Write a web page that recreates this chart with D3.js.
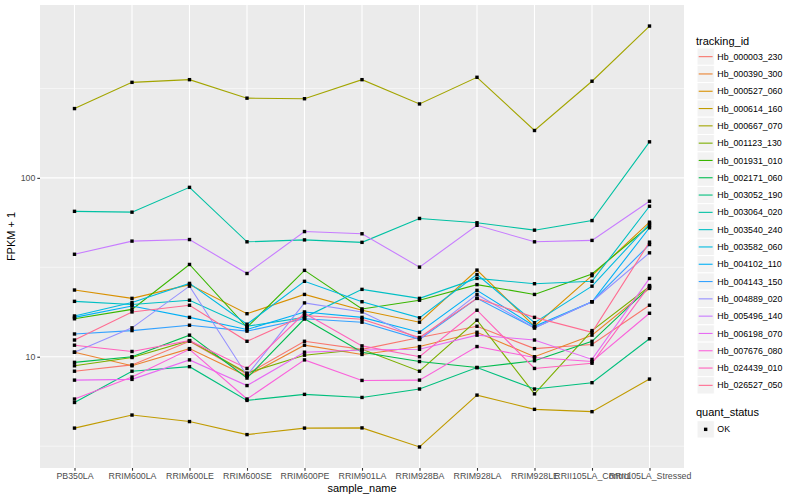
<!DOCTYPE html>
<html>
<head>
<meta charset="utf-8">
<script src="https://cdn.jsdelivr.net/npm/d3@7"></script>
<style>
  body { margin: 0; background: #fff; }
  text { font-family: "Liberation Sans", Arial, Helvetica, sans-serif; }
</style>
</head>
<body>
<script>
"use strict";

///////////////////
// data
///////////////////
var samples = ["PB350LA", "RRIM600LA", "RRIM600LE", "RRIM600SE", "RRIM600PE", "RRIM901LA",
    "RRIM928BA", "RRIM928LA", "RRIM928LE", "RRII105LA_Control", "RRII105LA_Stressed"];

var trackingIds = ["Hb_000003_230", "Hb_000390_300", "Hb_000527_060", "Hb_000614_160",
    "Hb_000667_070", "Hb_001123_130", "Hb_001931_010", "Hb_002171_060", "Hb_003052_190",
    "Hb_003064_020", "Hb_003540_240", "Hb_003582_060", "Hb_004102_110", "Hb_004143_150",
    "Hb_004889_020", "Hb_005496_140", "Hb_006198_070", "Hb_007676_080", "Hb_024439_010",
    "Hb_026527_050"];

// FPKM + 1, one value per sample
var hb_000003_230 = [8.3, 9.0, 12.2, 8.0, 12.2, 11.0, 12.8, 14.8, 11.1, 11.7, 19.4];
var hb_000390_300 = [10.6, 8.9, 11.1, 7.8, 11.6, 10.3, 11.4, 13.7, 10.0, 13.2, 24.1];
var hb_000527_060 = [23.6, 21.2, 25.3, 17.4, 22.3, 18.2, 15.6, 30.5, 14.8, 28.4, 56.5];
var hb_000614_160 = [3.99, 4.72, 4.34, 3.67, 3.99, 4.0, 3.13, 6.1, 5.08, 4.93, 7.5];
var hb_000667_070 = [244, 342, 354, 279, 277, 354, 259, 365, 184, 347, 706];
var hb_001123_130 = [8.9, 9.9, 12.3, 8.1, 10.2, 11.0, 8.3, 16.0, 6.2, 14.0, 24.7];
var hb_001931_010 = [16.3, 18.4, 32.8, 14.6, 30.4, 18.5, 20.7, 25.3, 22.3, 29.0, 54.0];
var hb_002171_060 = [9.3, 10.0, 13.2, 7.6, 16.3, 10.6, 9.4, 8.7, 9.5, 12.2, 24.5];
var hb_003052_190 = [5.55, 8.3, 8.8, 5.7, 6.16, 5.92, 6.6, 8.7, 6.6, 7.16, 12.6];
var hb_003064_020 = [65, 64.3, 88.5, 43.9, 45, 43.6, 59.3, 56.1, 51, 57.7, 159];
var hb_003540_240 = [20.4, 19.6, 20.7, 14.8, 16.6, 23.8, 21.2, 27.4, 25.6, 26.4, 69.4];
var hb_003582_060 = [16.9, 20.1, 25.7, 15.2, 26.4, 20.3, 16.5, 28.8, 15.5, 24.8, 55.3];
var hb_004102_110 = [16.6, 19.2, 16.6, 14.2, 17.8, 16.6, 13.7, 23.5, 14.8, 20.3, 52.6];
var hb_004143_150 = [13.4, 14.0, 15.0, 13.9, 16.3, 15.6, 12.5, 21.2, 14.5, 20.3, 42.4];
var hb_004889_020 = [10.6, 14.5, 24.8, 7.86, 20.0, 17.8, 12.5, 22.3, 14.5, 20.3, 38.1];
var hb_005496_140 = [37.4, 44.3, 45.2, 29.2, 50.1, 48.7, 31.7, 54.3, 43.9, 44.7, 74];
var hb_006198_070 = [7.4, 7.47, 9.6, 6.9, 10.6, 10.9, 11.0, 13.2, 12.4, 9.66, 27.4];
var hb_007676_080 = [5.8, 7.7, 11.0, 5.8, 9.6, 7.37, 7.4, 11.4, 9.9, 9.4, 17.5];
var hb_024439_010 = [11.6, 10.7, 12.3, 8.6, 17.5, 11.5, 10.0, 18.2, 8.6, 9.2, 25.0];
var hb_026527_050 = [12.4, 17.8, 19.4, 12.2, 17.0, 16.2, 12.8, 21.2, 16.6, 13.7, 43.7];

var seriesValues = [hb_000003_230, hb_000390_300, hb_000527_060, hb_000614_160, hb_000667_070,
    hb_001123_130, hb_001931_010, hb_002171_060, hb_003052_190, hb_003064_020, hb_003540_240,
    hb_003582_060, hb_004102_110, hb_004143_150, hb_004889_020, hb_005496_140, hb_006198_070,
    hb_007676_080, hb_024439_010, hb_026527_050];

var yTicks = [10, 100];
var statusLevels = ["OK"];

// ggplot default hue palette, 20 levels
var hueColors = ["#F8766D", "#EA8331", "#D89000", "#C09B00", "#A3A500", "#7CAE00", "#39B600",
    "#00BB4E", "#00BF7D", "#00C1A3", "#00BFC4", "#00BAE0", "#00B0F6", "#35A2FF", "#9590FF",
    "#C77CFF", "#E76BF3", "#FA62DB", "#FF62BC", "#FF6C91"];

///////////////////
// layout
///////////////////
var W = 800, H = 500;
var panel = { left: 40, right: 684, top: 5, bottom: 468 };

var series = trackingIds.map(function(id, i) {
    return {
        id: id,
        color: hueColors[i],
        points: seriesValues[i].map(function(v, j) { return { sample: samples[j], value: v }; })
    };
});

var allValues = d3.merge(seriesValues);
var logExt = d3.extent(allValues).map(Math.log10);
var pad = (logExt[1] - logExt[0]) * 0.05;

var x = d3.scalePoint()
    .domain(samples)
    .range([panel.left, panel.right])
    .padding(0.6);

var y = d3.scaleLog()
    .domain([Math.pow(10, logExt[0] - pad), Math.pow(10, logExt[1] + pad)])
    .range([panel.bottom, panel.top]);

var svg = d3.select("body").append("svg")
    .attr("width", W)
    .attr("height", H);

svg.append("rect")
    .attr("width", W).attr("height", H)
    .attr("fill", "#fff");

// panel background
svg.append("rect")
    .attr("x", panel.left).attr("y", panel.top)
    .attr("width", panel.right - panel.left)
    .attr("height", panel.bottom - panel.top)
    .attr("fill", "#EBEBEB");

// minor grid (half decades)
var minorTicks = [0.5, 1.5, 2.5].map(function(e) { return Math.pow(10, e); })
    .filter(function(v) { return v > y.domain()[0] && v < y.domain()[1]; });

svg.selectAll("line.minor")
    .data(minorTicks)
    .enter().append("line")
    .attr("class", "minor")
    .attr("x1", panel.left).attr("x2", panel.right)
    .attr("y1", function(d) { return y(d); })
    .attr("y2", function(d) { return y(d); })
    .attr("stroke", "#fff")
    .attr("stroke-width", 0.55);

svg.selectAll("line.hmajor")
    .data(yTicks)
    .enter().append("line")
    .attr("class", "hmajor")
    .attr("x1", panel.left).attr("x2", panel.right)
    .attr("y1", function(d) { return y(d); })
    .attr("y2", function(d) { return y(d); })
    .attr("stroke", "#fff")
    .attr("stroke-width", 1.1);

svg.selectAll("line.vmajor")
    .data(samples)
    .enter().append("line")
    .attr("class", "vmajor")
    .attr("x1", function(d) { return x(d); })
    .attr("x2", function(d) { return x(d); })
    .attr("y1", panel.top).attr("y2", panel.bottom)
    .attr("stroke", "#fff")
    .attr("stroke-width", 1.1);

///////////////////
// lines + points
///////////////////
var line = d3.line()
    .x(function(d) { return x(d.sample); })
    .y(function(d) { return y(d.value); });

svg.append("g").selectAll("path")
    .data(series)
    .enter().append("path")
    .attr("d", function(d) { return line(d.points); })
    .attr("fill", "none")
    .attr("stroke", function(d) { return d.color; })
    .attr("stroke-width", 1.1);

var ps = 3.4; // point size
svg.append("g").selectAll("rect")
    .data(d3.merge(series.map(function(s) { return s.points; })))
    .enter().append("rect")
    .attr("x", function(d) { return x(d.sample) - ps / 2; })
    .attr("y", function(d) { return y(d.value) - ps / 2; })
    .attr("width", ps).attr("height", ps)
    .attr("fill", "#000");

///////////////////
// axes
///////////////////
var yAxis = d3.axisLeft(y)
    .tickValues(yTicks)
    .tickFormat(d3.format("d"))
    .tickSize(2.7)
    .tickPadding(2);

var gy = svg.append("g")
    .attr("transform", "translate(" + panel.left + ",0)")
    .call(yAxis);

var xAxis = d3.axisBottom(x)
    .tickSize(2.7)
    .tickPadding(2.5);

var gx = svg.append("g")
    .attr("transform", "translate(0," + panel.bottom + ")")
    .call(xAxis);

[gy, gx].forEach(function(g) {
    g.select(".domain").remove();
    g.selectAll(".tick line").attr("stroke", "#333").attr("stroke-width", 1.1);
    g.selectAll(".tick text")
        .attr("fill", "#4D4D4D")
        .style("font-size", "8.8px")
        .style("font-family", "'Liberation Sans', Arial, sans-serif");
});

svg.append("text")
    .attr("x", (panel.left + panel.right) / 2)
    .attr("y", 492)
    .attr("text-anchor", "middle")
    .style("font-size", "11px")
    .text("sample_name");

svg.append("text")
    .attr("transform", "translate(15," + ((panel.top + panel.bottom) / 2) + ") rotate(-90)")
    .attr("text-anchor", "middle")
    .style("font-size", "11px")
    .text("FPKM + 1");

///////////////////
// legends
///////////////////
var lg = { x: 697, top: 48, key: 17.3 };

svg.append("text")
    .attr("x", 696).attr("y", 44.5)
    .style("font-size", "11px")
    .text("tracking_id");

var keys = svg.append("g").selectAll("g")
    .data(series)
    .enter().append("g")
    .attr("transform", function(d, i) { return "translate(" + lg.x + "," + (lg.top + i * lg.key) + ")"; });

keys.append("rect")
    .attr("width", lg.key).attr("height", lg.key)
    .attr("fill", "#F2F2F2")
    .attr("stroke", "#fff")
    .attr("stroke-width", 1);

keys.append("line")
    .attr("x1", 1.7).attr("x2", lg.key - 1.7)
    .attr("y1", lg.key / 2).attr("y2", lg.key / 2)
    .attr("stroke", function(d) { return d.color; })
    .attr("stroke-width", 1.1);

keys.append("text")
    .attr("x", lg.key + 3).attr("y", lg.key / 2 + 3.1)
    .style("font-size", "8.8px")
    .text(function(d) { return d.id; });

svg.append("text")
    .attr("x", 696).attr("y", 416)
    .style("font-size", "11px")
    .text("quant_status");

var sk = svg.append("g").selectAll("g")
    .data(statusLevels)
    .enter().append("g")
    .attr("transform", function(d, i) { return "translate(" + lg.x + "," + (420.7 + i * lg.key) + ")"; });

sk.append("rect")
    .attr("width", lg.key).attr("height", lg.key)
    .attr("fill", "#F2F2F2")
    .attr("stroke", "#fff");

sk.append("rect")
    .attr("x", lg.key / 2 - ps / 2).attr("y", lg.key / 2 - ps / 2)
    .attr("width", ps).attr("height", ps)
    .attr("fill", "#000");

sk.append("text")
    .attr("x", lg.key + 3).attr("y", lg.key / 2 + 3.1)
    .style("font-size", "8.8px")
    .text(function(d) { return d; });
</script>
</body>
</html>
